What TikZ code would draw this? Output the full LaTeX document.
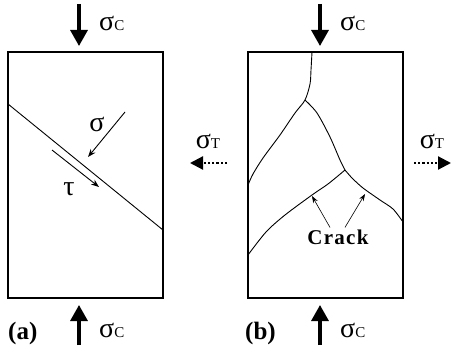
\documentclass[tikz,border=0pt]{standalone}
\usepackage{fontspec}
\setmainfont{Liberation Serif}
\usetikzlibrary{arrows.meta,positioning}
\newcommand{\lowc}[1]{{\fontsize{15}{15}\selectfont #1}}
\tikzset{
	load/.style={line width=3.2pt, -{Triangle[width=17pt,length=16pt]}},
	pull/.style={line width=2.2pt, dotted, -{Triangle[width=13pt,length=13pt]}},
	thin arrow/.style={line width=0.9pt, -{Stealth[width=6pt,length=8pt]}},
	small arrow/.style={line width=0.6pt, -{Stealth[width=5pt,length=7pt]}},
	sig/.style={font=\fontsize{28}{28}\selectfont, inner sep=0pt},
	tag/.style={font=\fontsize{25}{25}\selectfont\bfseries, inner sep=0pt},
	crackline/.style={line width=0.9pt}
}

\begin{document}
\begin{tikzpicture}[x=1pt, y=-1pt]
		\useasboundingbox (0,0) rectangle (453,353);
		% 试样 (a)
		\draw[line width=1.1pt] (8,52) rectangle (163,298);
		\coordinate (da) at (8,104);
		\coordinate (db) at (163,230);
		\draw[line width=0.9pt] (da) -- (db);
		\coordinate (s1) at (125,112);
		\coordinate (s2) at (88,157);
		\draw[thin arrow] (s1) -- (s2);
		\node[sig] (sig) at (97,124) {σ};
		\coordinate (t1) at (52,150);
		\coordinate (t2) at (99,187);
		\draw[thin arrow] (t1) -- (t2);
		\node[sig] (tau) at (69,189) {τ};
		% 试样 (b)
		\draw[line width=1.1pt] (248,52) rectangle (403,298);
		\draw[crackline] plot[smooth] coordinates {(312,52) (311,70) (310,84) (305,100) (295,113) (280,135) (263,158) (253,174) (248,185)};
		\coordinate (br) at (345,170);
		\draw[crackline] plot[smooth] coordinates {(305,100) (317,113) (330,137) (340,160) (br)};
		\draw[crackline] plot[smooth] coordinates {(br) (328,184) (312,195) (285,215) (266,232) (248,255)};
		\draw[crackline] plot[smooth] coordinates {(br) (352,178) (363,188) (380,200) (393,209) (403,222)};
		\node[font=\fontsize{21}{21}\selectfont\bfseries\addfontfeature{LetterSpace=6}, inner sep=0pt] (crack) at (338,237) {Crack};
		\coordinate (c1) at (312,196);
		\coordinate (c2) at (365,194);
		\draw[small arrow] (crack.north) ++(-8,-2) coordinate (k1) (k1) -- (c1);
		\draw[small arrow] (crack.north) ++(7,-2) coordinate (k2) (k2) -- (c2);
		% 压应力
		\coordinate (ua) at (79,4);  \coordinate (ub) at (79,46);
		\draw[load] (ua) -- (ub);
		\node[sig, anchor=west] (sca) at (99,23) {σ\lowc{C}};
		\coordinate (la) at (79,345); \coordinate (lb) at (79,305);
		\draw[load] (la) -- (lb);
		\node[sig, anchor=west] (scb) at (99,330) {σ\lowc{C}};
		\coordinate (uc) at (320,4);  \coordinate (ud) at (320,46);
		\draw[load] (uc) -- (ud);
		\node[sig, anchor=west] (scc) at (340,23) {σ\lowc{C}};
		\coordinate (lc) at (320,345); \coordinate (ld) at (320,305);
		\draw[load] (lc) -- (ld);
		\node[sig, anchor=west] (scd) at (340,330) {σ\lowc{C}};
		% 拉应力
		\coordinate (pa) at (227,163); \coordinate (pb) at (190,163);
		\draw[pull] (pa) -- (pb);
		\node[sig] (sta) at (208,141) {σ\lowc{T}};
		\coordinate (pc) at (414,163); \coordinate (pd) at (451,163);
		\draw[pull] (pc) -- (pd);
		\node[sig] (stb) at (432,141) {σ\lowc{T}};
		% 编号
		\node[tag, anchor=west] (a) at (8,333) {(a)};
		\node[tag, anchor=west] (b) at (245,333) {(b)};
	\end{tikzpicture}
\end{document}
